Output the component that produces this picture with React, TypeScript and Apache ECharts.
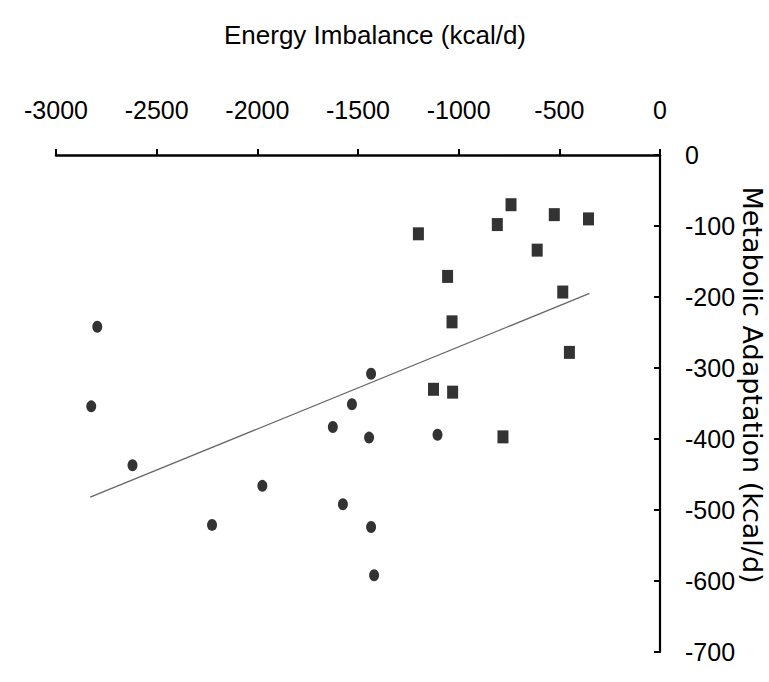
import React, { useEffect, useRef } from "react";
import * as echarts from "echarts";

const xTicks = [-3000, -2500, -2000, -1500, -1000, -500, 0];
const yTicks = [0, -100, -200, -300, -400, -500, -600, -700];

const circleX = [-2795, -2825, -2620, -2225, -1975, -1625, -1575, -1530, -1445, -1435, -1435, -1420, -1105];
const circleY = [-242, -354, -437, -521, -466, -383, -492, -351, -398, -308, -524, -592, -394];

const squareX = [-1200, -1125, -1055, -1033, -1030, -808, -780, -740, -610, -525, -483, -450, -355];
const squareY = [-111, -330, -171, -235, -334, -98, -397, -70, -134, -84, -193, -278, -90];

const trendX = [-2830, -350];
const trendY = [-482, -195];

const xTitle = "Energy Imbalance (kcal/d)";
const yTitle = "Metabolic Adaptation (kcal/d)";

const FONT = "'Liberation Sans', Arial, sans-serif";

export default function App() {
  const ref = useRef<HTMLDivElement>(null);
  useEffect(() => {
    if (!ref.current) return;
    const chart = echarts.init(ref.current, undefined, { renderer: "svg" });
    const zip = (xs: number[], ys: number[]) => xs.map((x, i) => [x, ys[i]]);
    chart.setOption({
      animation: false,
      backgroundColor: "#ffffff",
      grid: {
        left: 56,
        right: 109,
        top: 155,
        bottom: 30,
        containLabel: false,
        outerBoundsMode: "none",
      },
      xAxis: {
        type: "value",
        position: "top",
        min: xTicks[0],
        max: xTicks[xTicks.length - 1],
        interval: 500,
        splitLine: { show: false },
        axisLine: { onZero: false, lineStyle: { color: "#000", width: 2.5 } },
        axisTick: { show: true, inside: false, length: 6, lineStyle: { color: "#000", width: 2 } },
        axisLabel: {
          margin: 33,
          color: "#000",
          fontFamily: FONT,
          fontSize: 25,
          formatter: (v: number) => String(v),
        },
      },
      yAxis: {
        type: "value",
        position: "right",
        min: yTicks[yTicks.length - 1],
        max: yTicks[0],
        interval: 100,
        splitLine: { show: false },
        axisLine: { onZero: false, lineStyle: { color: "#000", width: 2.2 } },
        axisTick: { show: true, inside: true, length: 6, lineStyle: { color: "#000", width: 2 } },
        axisLabel: {
          margin: 25,
          color: "#000",
          fontFamily: FONT,
          fontSize: 25,
          formatter: (v: number) => String(v),
        },
      },
      graphic: [
        {
          type: "text",
          x: 375,
          y: 35,
          style: {
            text: xTitle,
            fill: "#000",
            font: `26px ${FONT}`,
            textAlign: "center",
            textVerticalAlign: "middle",
          },
        },
        {
          type: "text",
          x: 752,
          y: 385,
          rotation: -Math.PI / 2,
          style: {
            text: yTitle,
            fill: "#000",
            font: "27px 'DejaVu Sans', sans-serif",
            textAlign: "center",
            textVerticalAlign: "middle",
          },
        },
      ],
      series: [
        {
          type: "line",
          data: zip(trendX, trendY),
          showSymbol: false,
          symbol: "none",
          lineStyle: { color: "#666", width: 1.3 },
          z: 1,
        },
        {
          type: "scatter",
          data: zip(circleX, circleY),
          symbol: "circle",
          symbolSize: [10, 12],
          itemStyle: { color: "#000" },
          z: 3,
        },
        {
          type: "scatter",
          data: zip(squareX, squareY),
          symbol: "rect",
          symbolSize: [11, 13],
          itemStyle: { color: "#000" },
          z: 3,
        },
      ],
    });
    return () => chart.dispose();
  }, []);
  return (
    <div
      ref={ref}
      style={{ position: "fixed", left: 0, top: 0, width: 769, height: 682, background: "#fff" }}
    />
  );
}
